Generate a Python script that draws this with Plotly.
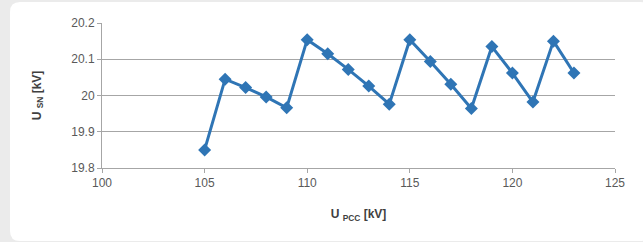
import plotly.graph_objects as go

u_pcc = [105, 106, 107, 108, 109, 110, 111, 112, 113, 114, 115, 116, 117, 118, 119, 120, 121, 122, 123]
u_sn = [19.85, 20.045, 20.022, 19.996, 19.966, 20.154, 20.115, 20.072, 20.026, 19.976,
        20.154, 20.094, 20.031, 19.964, 20.135, 20.062, 19.982, 20.15, 20.062]
x_ticks = [100, 105, 110, 115, 120, 125]
y_ticks = [19.8, 19.9, 20.0, 20.1, 20.2]
y_tick_text = ["19.8", "19.9", "20", "20.1", "20.2"]

W, H = 643, 242
ml, mr, mt, mb = 102, 28, 23, 74
pw, ph = W - ml - mr, H - mt - mb

def px(x):
    return (x - ml) / pw

def py(y):
    return (H - mb - y) / ph

# rounded white panel
x0, x1, y0, y1, r = 10, 650, 2, 241, 10
path = (f"M {px(x0 + r)} {py(y0)} L {px(x1 - r)} {py(y0)} "
        f"Q {px(x1)} {py(y0)} {px(x1)} {py(y0 + r)} L {px(x1)} {py(y1 - r)} "
        f"Q {px(x1)} {py(y1)} {px(x1 - r)} {py(y1)} L {px(x0 + r)} {py(y1)} "
        f"Q {px(x0)} {py(y1)} {px(x0)} {py(y1 - r)} L {px(x0)} {py(y0 + r)} "
        f"Q {px(x0)} {py(y0)} {px(x0 + r)} {py(y0)} Z")

fig = go.Figure()
fig.add_trace(go.Scatter(
    x=u_pcc, y=u_sn, mode="lines+markers",
    line=dict(color="#2f75b5", width=3),
    marker=dict(symbol="diamond", size=10, color="#2f75b5"),
    showlegend=False,
))

font_family = "Liberation Sans, Arial, sans-serif"
fig.update_layout(
    width=W, height=H,
    margin=dict(l=ml, r=mr, t=mt, b=mb),
    paper_bgcolor="#ebebeb",
    plot_bgcolor="rgba(0,0,0,0)",
    font=dict(family=font_family, size=12, color="#595959"),
    shapes=[dict(type="path", path=path, xref="paper", yref="paper",
                 fillcolor="white", line=dict(width=0), layer="below")],
    xaxis=dict(
        range=[100, 125], tickvals=x_ticks, ticktext=[str(v) for v in x_ticks],
        showgrid=False, zeroline=False,
        showline=True, linecolor="#a6a6a6", linewidth=1,
        ticks="outside", ticklen=4, tickcolor="#a6a6a6",
        tickfont=dict(size=12, color="#595959"),
        title=dict(text="<b>U <sub>PCC</sub> [kV]</b>", font=dict(size=12, color="#404040"), standoff=20),
    ),
    yaxis=dict(
        range=[19.8, 20.2], tickvals=y_ticks, ticktext=y_tick_text,
        showgrid=True, gridcolor="#a6a6a6", gridwidth=1, zeroline=False,
        showline=True, linecolor="#a6a6a6", linewidth=1,
        ticks="outside", ticklen=4, tickcolor="#a6a6a6",
        tickfont=dict(size=12, color="#595959"),
        title=dict(text="<b>U <sub>SN</sub> [kV]</b>", font=dict(size=12, color="#404040"), standoff=27),
    ),
)

fig.write_html(
    "out.html",
    config={"displayModeBar": False},
    post_script="document.body.style.margin='0';document.body.style.background='#ebebeb';",
)
